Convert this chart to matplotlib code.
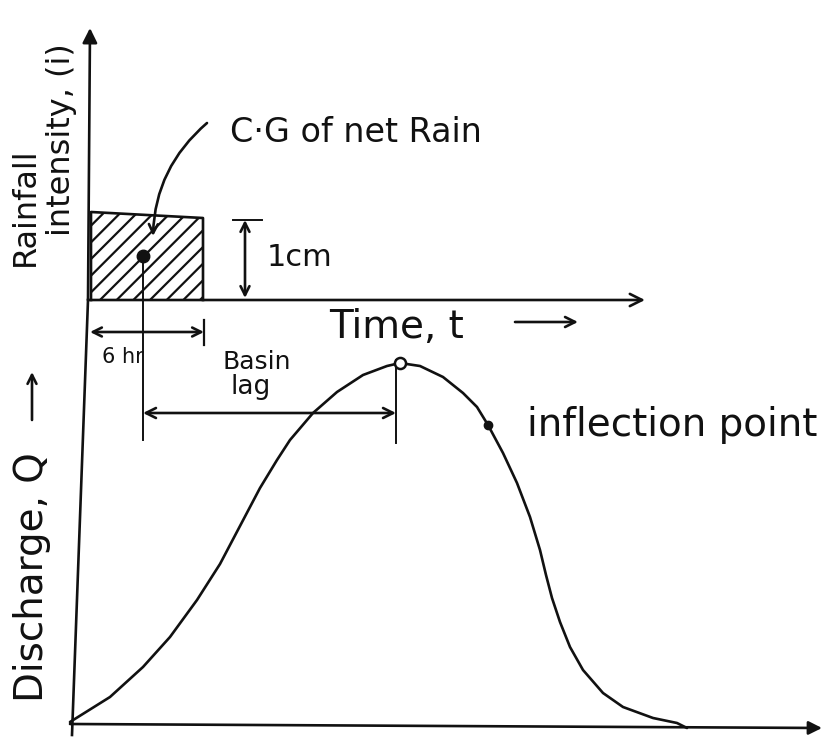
import matplotlib
matplotlib.use("Agg")
import matplotlib.pyplot as plt

plt.rcParams["font.family"] = ["DejaVu Sans"]
plt.rcParams["hatch.linewidth"] = 1.6

# Sketch coordinates (page units, y grows downward)
# Unit hydrograph: time vs discharge
hydro_t = [70, 110, 143, 170, 197, 220, 240, 260, 277, 290, 313, 337, 363,
           387, 400, 420, 443, 463, 477, 488, 503, 517, 530, 540, 546, 552,
           560, 570, 583, 603, 623, 653, 677, 687]
hydro_q = [722, 697, 667, 637, 600, 564, 526, 488, 460, 440, 413, 392, 375,
           366, 363, 366, 377, 393, 407, 425, 453, 483, 517, 550, 575, 598,
           622, 647, 670, 693, 707, 718, 723, 728]

# Net rainfall block (duration 6 hr, depth 1 cm)
rain_t = [91, 203]
rain_top = [212, 218]
rain_base = 300
cg_point = (143, 256)

peak_point = (400, 363)
inflection_point = (488, 425)

INK = "#111111"
LW = 1.9

fig = plt.figure(figsize=(8.28, 7.40), dpi=100)
ax = fig.add_axes([0, 0, 1, 1])
ax.set_xlim(0, 828)
ax.set_ylim(740, 0)
ax.axis("off")


def arrow(p0, p1, style="->", scale=18, lw=LW, conn="arc3"):
    ax.annotate("", xy=p1, xytext=p0,
                arrowprops=dict(arrowstyle=style, color=INK, lw=lw,
                                mutation_scale=scale, shrinkA=0, shrinkB=0,
                                connectionstyle=conn))


# ---- Rainfall hyetograph axes ----
arrow((88, 300), (90, 28), style="-|>", scale=22)
arrow((88, 300), (645, 300), style="->", scale=22)

# hatched rainfall block
ax.fill_between(rain_t, rain_top, rain_base, facecolor="none",
                edgecolor=INK, hatch="//", lw=0)
ax.plot([rain_t[0], rain_t[0], rain_t[1], rain_t[1]],
        [rain_base, rain_top[0], rain_top[1], rain_base], color=INK, lw=LW)
ax.plot(*cg_point, "o", color=INK, ms=9)

# 1 cm depth dimension
arrow((245, 298), (245, 220), style="<->", scale=16)
ax.plot([233, 262], [220, 220], color=INK, lw=1.4)
ax.text(300, 258, "1cm", fontsize=22, color=INK, ha="center", va="center")

# C.G label with curved leader
ax.text(356, 132, "C·G of net Rain", fontsize=24, color=INK,
        ha="center", va="center")
arrow((207, 123), (153, 236), style="->", scale=16,
      conn="arc3,rad=0.22")

# rainfall axis title
ax.text(25, 207, "Rainfall", fontsize=23, color=INK, rotation=90,
        ha="center", va="center")
ax.text(62, 140, "intensity, (i)", fontsize=23, color=INK, rotation=90,
        ha="center", va="center")

# time axis title
ax.text(397, 327, "Time, t", fontsize=28, color=INK, ha="center",
        va="center")
arrow((515, 322), (578, 322), style="->", scale=18)

# 6 hr duration dimension
arrow((90, 332), (204, 332), style="<->", scale=16)
ax.plot([204, 204], [320, 345], color=INK, lw=1.6)
ax.text(123, 357, "6 hr", fontsize=15, color=INK, ha="center", va="center")

# basin lag dimension (C.G of rain to peak)
ax.plot([cg_point[0], cg_point[0]], [cg_point[1], 440], color=INK, lw=1.4)
ax.plot([396, 396], [360, 443], color=INK, lw=1.4)
arrow((cg_point[0], 413), (396, 413), style="<->", scale=18)
ax.text(257, 362, "Basin", fontsize=18, color=INK, ha="center", va="center")
ax.text(251, 387, "lag", fontsize=19, color=INK, ha="center", va="center")

# ---- Hydrograph ----
ax.plot([88, 72], [300, 735], color=INK, lw=LW)
arrow((70, 724), (822, 728), style="-|>", scale=20)
ax.plot(hydro_t, hydro_q, color=INK, lw=LW, solid_joinstyle="round",
        solid_capstyle="round")
ax.plot(*peak_point, "o", mfc="white", mec=INK, mew=1.8, ms=8)
ax.plot(*inflection_point, "o", color=INK, ms=6)
ax.text(672, 425, "inflection point", fontsize=28, color=INK,
        ha="center", va="center")

ax.text(32, 577, "Discharge, Q", fontsize=28, color=INK, rotation=90,
        ha="center", va="center")
arrow((32, 420), (32, 372), style="->", scale=16)

fig.savefig("out.png", dpi=100, facecolor="white")
